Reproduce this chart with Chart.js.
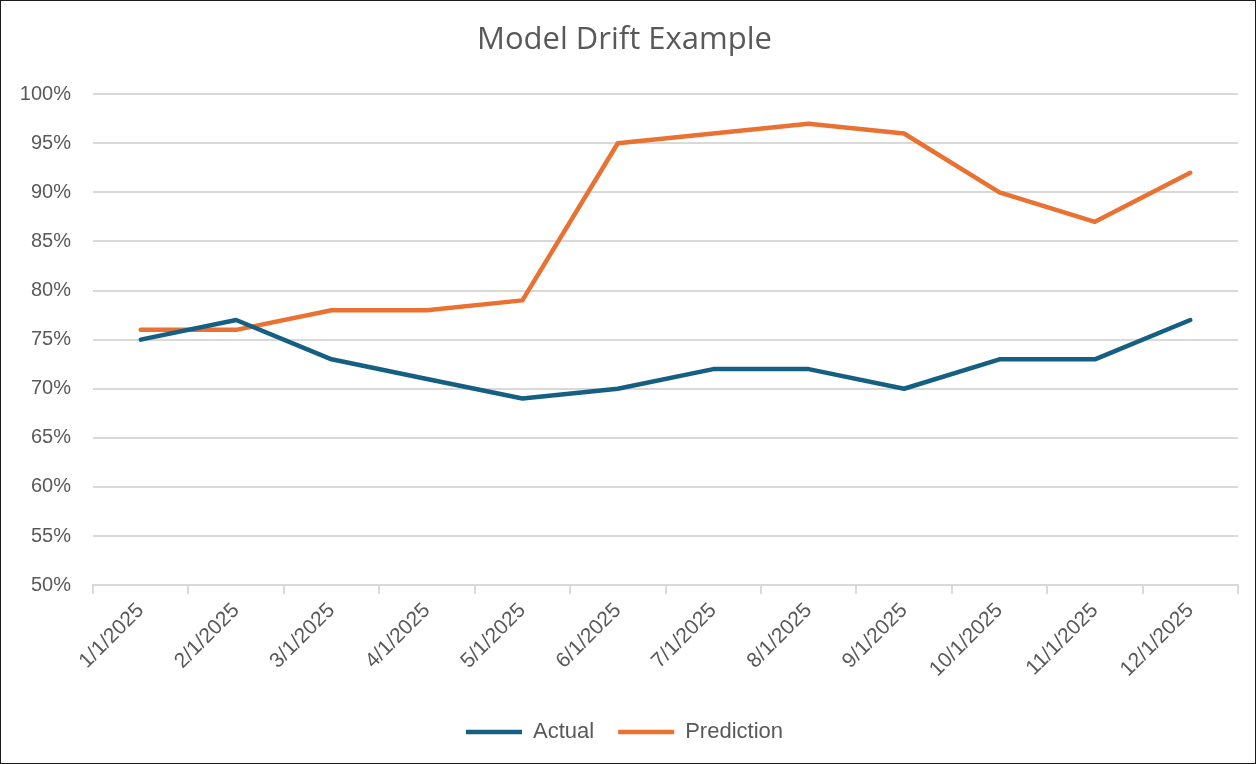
<!DOCTYPE html>
<html>
<head>
<meta charset="utf-8">
<script src="https://cdn.jsdelivr.net/npm/chart.js@4"></script>
<style>
  html, body { margin: 0; padding: 0; background: #fff; }
  #wrap { width: 1256px; height: 764px; box-sizing: border-box; border: 1px solid #1a1a1a; position: relative; background: #fff; }
  canvas { display: block; }
</style>
</head>
<body>
<div id="wrap"><canvas id="c"></canvas></div>
<script>
const categories = ['1/1/2025','2/1/2025','3/1/2025','4/1/2025','5/1/2025','6/1/2025','7/1/2025','8/1/2025','9/1/2025','10/1/2025','11/1/2025','12/1/2025'];
const actualValues = [75, 77, 73, 71, 69, 70, 72, 72, 70, 73, 73, 77];
const predictionValues = [76, 76, 78, 78, 79, 95, 96, 97, 96, 90, 87, 92];
const seriesNames = ['Actual', 'Prediction'];
const yMin = 50, yMax = 100, yStep = 5;
const titleText = 'Model Drift Example';

const textColor = '#595959';
const gridColor = '#d9d9d9';
const font = "'Liberation Sans', Arial, sans-serif";

new Chart(document.getElementById('c'), {
  type: 'line',
  data: {
    labels: categories,
    datasets: [
      { label: seriesNames[0], data: actualValues, borderColor: '#156082', backgroundColor: '#156082',
        borderWidth: 4.5, pointRadius: 0, pointStyle: 'line', tension: 0, borderCapStyle: 'round', borderJoinStyle: 'round' },
      { label: seriesNames[1], data: predictionValues, borderColor: '#E97132', backgroundColor: '#E97132',
        borderWidth: 4.5, pointRadius: 0, pointStyle: 'line', tension: 0, borderCapStyle: 'round', borderJoinStyle: 'round' }
    ]
  },
  options: {
    responsive: true,
    maintainAspectRatio: false,
    animation: false,
    layout: { padding: { left: 10, right: 17, top: 10, bottom: 10 } },
    plugins: {
      title: { display: true, text: titleText, color: textColor,
        font: { family: "'Open Sans', 'Liberation Sans', sans-serif", size: 31, weight: 'normal' },
        padding: { top: 11, bottom: 35 } },
      legend: { position: 'bottom',
        labels: { usePointStyle: true, pointStyleWidth: 56, boxHeight: 20, color: textColor,
          font: { family: font, size: 22 }, padding: 24 } },
      tooltip: { enabled: false }
    },
    scales: {
      x: {
        offset: true,
        afterFit: s => { s.paddingLeft = 0; s.paddingRight = 0; s.height += 11; },
        grid: { display: true, drawOnChartArea: false, drawTicks: true, tickLength: 9, color: gridColor, lineWidth: 2, offset: true },
        border: { display: true, color: gridColor, width: 2 },
        ticks: { color: textColor, font: { family: font, size: 21 }, maxRotation: 45, minRotation: 45, padding: 4, autoSkip: false }
      },
      y: {
        min: yMin, max: yMax,
        afterFit: s => { s.width = 82; },
        grid: { color: gridColor, lineWidth: 2, drawTicks: false },
        border: { display: false },
        ticks: { stepSize: yStep, color: textColor, font: { family: font, size: 20 }, padding: 22,
          callback: v => v + '%' }
      }
    }
  }
});
</script>
</body>
</html>
